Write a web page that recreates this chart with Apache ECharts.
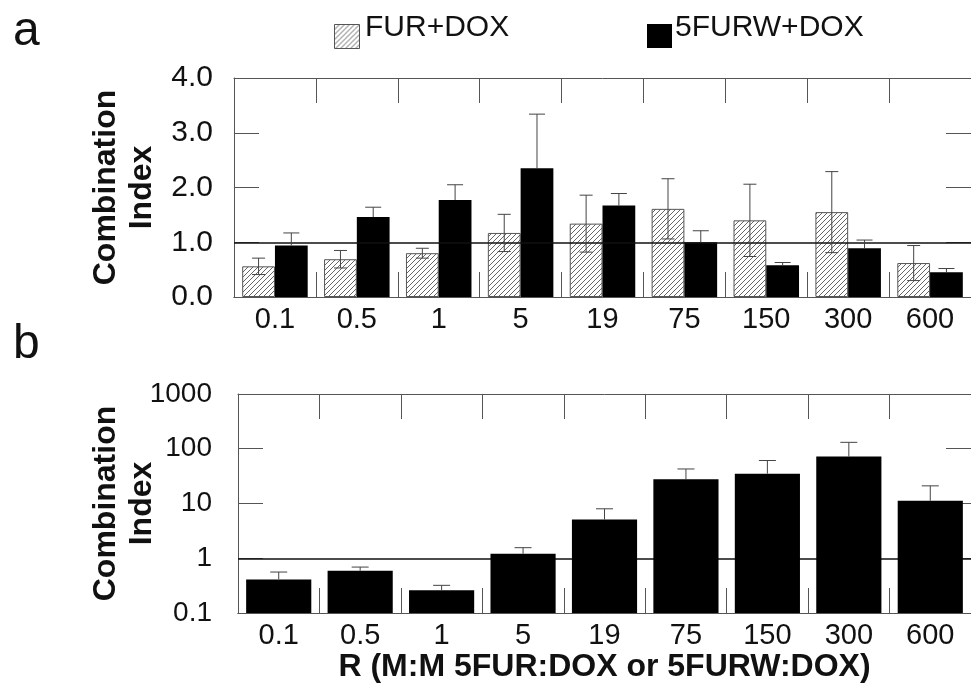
<!DOCTYPE html>
<html>
<head>
<meta charset="utf-8">
<title>Combination Index</title>
<script src="https://cdn.jsdelivr.net/npm/echarts@6/dist/echarts.min.js"></script>
<style>
  html, body { margin: 0; padding: 0; background: #fff; }
  #chart { width: 971px; height: 686px; }
</style>
</head>
<body>
<div id="chart"></div>
<script>
// R ratios (M:M)
const categories = ['0.1', '0.5', '1', '5', '19', '75', '150', '300', '600'];

// panel a, linear scale
const furDox = [0.56, 0.69, 0.80, 1.17, 1.34, 1.61, 1.40, 1.55, 0.62];
const furDoxErr = [0.15, 0.16, 0.09, 0.34, 0.52, 0.55, 0.66, 0.74, 0.32];
const furwDox = [0.94, 1.46, 1.77, 2.35, 1.67, 1.00, 0.58, 0.89, 0.45];
const furwDoxErr = [0.23, 0.18, 0.28, 0.99, 0.22, 0.21, 0.05, 0.15, 0.07];

// panel b, log scale
const furwDoxLog = [0.41, 0.59, 0.26, 1.21, 5.1, 27.7, 35, 72, 11.2];
const furwDoxLogErr = [0.15, 0.10, 0.06, 0.35, 2.9, 15, 26, 59, 9.8];

const yTicksA = [0, 1, 2, 3, 4];
const yTicksB = [0.1, 1, 10, 100, 1000];

const FONT = "'Liberation Sans', Arial, sans-serif";
const AXIS_GRAY = '#555';

// hatch fill for FUR+DOX
function hatch() {
  const n = 5;
  const c = document.createElement('canvas');
  c.width = n; c.height = n;
  const ctx = c.getContext('2d');
  ctx.fillStyle = '#fff';
  ctx.fillRect(0, 0, n, n);
  ctx.strokeStyle = '#666';
  ctx.lineWidth = 1;
  ctx.beginPath();
  ctx.moveTo(0, n); ctx.lineTo(n, 0);
  ctx.moveTo(-1, 1); ctx.lineTo(1, -1);
  ctx.moveTo(n - 1, n + 1); ctx.lineTo(n + 1, n - 1);
  ctx.stroke();
  return { image: c, repeat: 'repeat' };
}
const hatchFill = hatch();

// error bars at the bar centre; side = -1 left bar, +1 right bar, 0 single bar
function errorBars(side, both, capW) {
  return function (params, api) {
    const band = api.size([1, 0])[0];
    const idx = api.value(0);
    const v = api.value(1);
    const e = api.value(2);
    const p = api.coord([idx, v]);
    const x = p[0] + side * band * 0.2;
    const top = api.coord([idx, v + e])[1];
    const bot = both ? api.coord([idx, v - e])[1] : p[1];
    const style = { stroke: '#444', lineWidth: 1 };
    const kids = [
      { type: 'line', shape: { x1: x, y1: top, x2: x, y2: bot }, style },
      { type: 'line', shape: { x1: x - capW / 2, y1: top, x2: x + capW / 2, y2: top }, style }
    ];
    if (both) {
      kids.push({ type: 'line', shape: { x1: x - capW / 2, y1: bot, x2: x + capW / 2, y2: bot }, style });
    }
    return { type: 'group', children: kids };
  };
}

// bars on the log axis grow from the axis minimum
function logBar(params, api) {
  const idx = api.value(0);
  const band = api.size([1, 0])[0];
  const w = band * 0.8;
  const top = api.coord([idx, api.value(1)]);
  const base = api.coord([idx, yTicksB[0]]);
  return {
    type: 'rect',
    shape: { x: top[0] - w / 2, y: top[1], width: w, height: base[1] - top[1] },
    style: { fill: '#000' }
  };
}

function errData(vals, errs) {
  return vals.map((v, i) => [i, v, errs[i]]);
}

function catAxis(gridIndex, pos, labels, ticks) {
  return {
    type: 'category',
    gridIndex: gridIndex,
    position: pos,
    data: categories,
    boundaryGap: true,
    axisLine: { show: true, onZero: false, lineStyle: { color: AXIS_GRAY, width: 1 } },
    axisTick: { show: ticks, inside: true, length: 25, interval: 0, lineStyle: { color: AXIS_GRAY } },
    axisLabel: { show: labels, interval: 0, margin: 8, fontFamily: FONT, fontSize: 29, color: '#111' },
    splitLine: { show: false }
  };
}

function valAxisBase(gridIndex, pos) {
  return {
    gridIndex: gridIndex,
    position: pos,
    axisLine: { show: true, onZero: false, lineStyle: { color: AXIS_GRAY } },
    axisTick: { show: true, inside: true, length: 25, lineStyle: { color: AXIS_GRAY } },
    splitLine: { show: false }
  };
}

const nameStyle = { fontFamily: FONT, fontSize: 32, fontWeight: 'bold', color: '#111', lineHeight: 36 };

const refLine = {
  silent: true,
  symbol: 'none',
  label: { show: false },
  lineStyle: { color: '#111', width: 1.5, type: 'solid' },
  data: [{ yAxis: 1 }]
};

const chart = echarts.init(document.getElementById('chart'), null, { renderer: 'canvas' });

const option = {
  animation: false,
  backgroundColor: '#fff',
  textStyle: { fontFamily: FONT },
  graphic: [
    { type: 'text', left: 13, top: 8, style: { text: 'a', font: '48px ' + FONT, fill: '#111' } },
    { type: 'text', left: 13, top: 321, style: { text: 'b', font: '48px ' + FONT, fill: '#111' } },
    // legend
    { type: 'rect', left: 334, top: 24, shape: { width: 25, height: 24 }, style: { fill: hatchFill, stroke: '#555', lineWidth: 1 } },
    { type: 'text', left: 365, top: 13, style: { text: 'FUR+DOX', font: '30px ' + FONT, fill: '#111' } },
    { type: 'rect', left: 647, top: 24, shape: { width: 25, height: 24 }, style: { fill: '#000' } },
    { type: 'text', left: 675, top: 13, style: { text: '5FURW+DOX', font: '30px ' + FONT, fill: '#111' } }
  ],
  grid: [
    { left: 234, top: 78, width: 747, height: 219 },
    { left: 238, top: 394, width: 743, height: 219 }
  ],
  xAxis: [
    catAxis(0, 'bottom', true, false),
    catAxis(0, 'top', false, true),
    Object.assign(catAxis(1, 'bottom', true, false), {
      name: 'R (M:M 5FUR:DOX or 5FURW:DOX)',
      nameLocation: 'middle',
      nameGap: 38,
      nameTextStyle: { fontFamily: FONT, fontSize: 32, fontWeight: 'bold', color: '#111' }
    }),
    catAxis(1, 'top', false, true),
    // inward ticks along the bottom edges
    Object.assign(catAxis(0, 'bottom', false, true), { offset: 0 }),
    Object.assign(catAxis(1, 'bottom', false, true), { offset: 0 })
  ],
  yAxis: [
    Object.assign(valAxisBase(0, 'left'), {
      type: 'value', min: yTicksA[0], max: yTicksA[yTicksA.length - 1], interval: 1,
      name: 'Combination\nIndex', nameLocation: 'middle', nameRotate: 90, nameGap: 74,
      nameMoveOverlap: false,
      nameTextStyle: nameStyle,
      axisLabel: { margin: 21, fontFamily: FONT, fontSize: 30, color: '#111', formatter: v => v.toFixed(1) }
    }),
    Object.assign(valAxisBase(0, 'right'), {
      type: 'value', min: yTicksA[0], max: yTicksA[yTicksA.length - 1], interval: 1,
      axisLabel: { show: false }
    }),
    Object.assign(valAxisBase(1, 'left'), {
      type: 'log', logBase: 10, min: yTicksB[0], max: yTicksB[yTicksB.length - 1],
      name: 'Combination\nIndex', nameLocation: 'middle', nameRotate: 90, nameGap: 78,
      nameMoveOverlap: false,
      nameTextStyle: nameStyle,
      axisLabel: { margin: 26, fontFamily: FONT, fontSize: 28, color: '#111', formatter: v => String(+(+v).toPrecision(3)) }
    }),
    Object.assign(valAxisBase(1, 'right'), {
      type: 'log', logBase: 10, min: yTicksB[0], max: yTicksB[yTicksB.length - 1],
      axisLabel: { show: false }
    })
  ],
  series: [
    {
      name: 'FUR+DOX', type: 'bar', xAxisIndex: 0, yAxisIndex: 0,
      data: furDox, barGap: '0%', barCategoryGap: '20%',
      itemStyle: { color: hatchFill, borderColor: '#555', borderWidth: 1 },
      markLine: refLine
    },
    {
      name: '5FURW+DOX', type: 'bar', xAxisIndex: 0, yAxisIndex: 0,
      data: furwDox, barGap: '0%', barCategoryGap: '20%',
      itemStyle: { color: '#000' }
    },
    {
      type: 'custom', xAxisIndex: 0, yAxisIndex: 0, z: 5, silent: true,
      renderItem: errorBars(-1, true, 13),
      data: errData(furDox, furDoxErr)
    },
    {
      type: 'custom', xAxisIndex: 0, yAxisIndex: 0, z: 5, silent: true,
      renderItem: errorBars(1, false, 16),
      data: errData(furwDox, furwDoxErr)
    },
    {
      name: '5FURW+DOX', type: 'custom', xAxisIndex: 2, yAxisIndex: 2, z: 3,
      renderItem: logBar,
      data: furwDoxLog.map((v, i) => [i, v]),
      markLine: Object.assign({}, refLine, { z: 1 })
    },
    {
      type: 'custom', xAxisIndex: 2, yAxisIndex: 2, z: 5, silent: true,
      renderItem: errorBars(0, false, 17),
      data: errData(furwDoxLog, furwDoxLogErr)
    }
  ]
};

chart.setOption(option);
</script>
</body>
</html>
